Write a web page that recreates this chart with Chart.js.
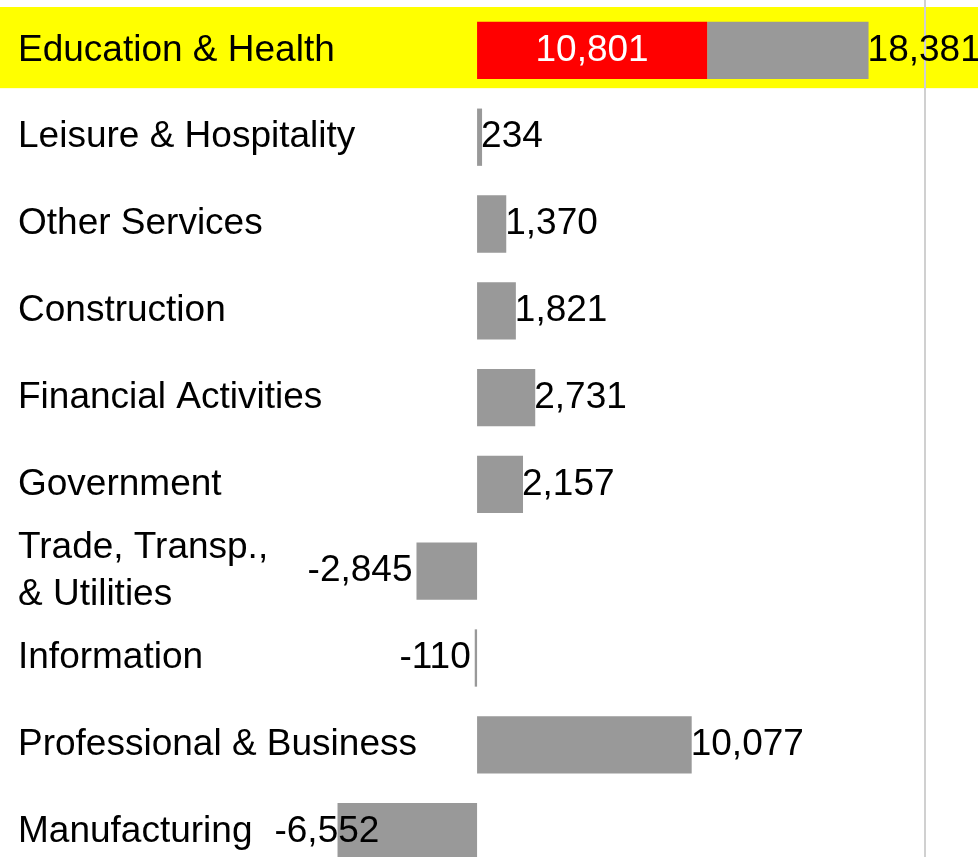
<!DOCTYPE html>
<html><head><meta charset="utf-8">
<script src="https://cdn.jsdelivr.net/npm/chart.js@4"></script>
<style>html,body{margin:0;padding:0;overflow:hidden;background:#fff}</style>
</head><body>
<canvas id="c" width="978" height="875"></canvas>
<script>
const categories = ["Education & Health","Leisure & Hospitality","Other Services","Construction","Financial Activities","Government",["Trade, Transp.,","& Utilities"],"Information","Professional & Business","Manufacturing"];
const totals = [18381,234,1370,1821,2731,2157,-2845,-110,10077,-6552];
const highlight = [10801,null,null,null,null,null,null,null,null,null];
const axisMin = -22400, axisMax = 23520;
const refLineValue = 21050;

const FONT_FAMILY = '"Liberation Sans", Arial, sans-serif';
const FONT_SIZE = 37;
const LINE_HEIGHT = 47;
const LABEL_LEFT = 18;
const fmt = v => v.toLocaleString('en-US');

const decor = {
  id: 'decor',
  beforeDraw(chart) {
    const {ctx, scales: {x, y}} = chart;
    const band = y.getPixelForValue(1) - y.getPixelForValue(0);
    ctx.save();
    highlight.forEach((h, i) => {
      if (h == null) return;
      const cy = y.getPixelForValue(i);
      ctx.fillStyle = '#ffff00';
      ctx.fillRect(0, cy - band * 0.5, chart.width, band * 0.935);
    });
    const lx = x.getPixelForValue(refLineValue);
    ctx.fillStyle = '#d0d0d0';
    ctx.fillRect(Math.round(lx) - 1, 0, 2, chart.height);
    // category labels
    ctx.font = FONT_SIZE + 'px ' + FONT_FAMILY;
    ctx.textBaseline = 'middle';
    ctx.textAlign = 'left';
    ctx.fillStyle = '#000';
    categories.forEach((c, i) => {
      const lines = Array.isArray(c) ? c : [c];
      const cy = y.getPixelForValue(i);
      const start = cy - (lines.length - 1) * LINE_HEIGHT / 2;
      lines.forEach((l, k) => ctx.fillText(l, LABEL_LEFT, start + k * LINE_HEIGHT));
    });
    ctx.restore();
  },
  afterDatasetsDraw(chart) {
    const {ctx, scales: {x, y}} = chart;
    ctx.save();
    ctx.font = FONT_SIZE + 'px ' + FONT_FAMILY;
    ctx.textBaseline = 'middle';
    totals.forEach((t, i) => {
      const cy = y.getPixelForValue(i);
      const px = x.getPixelForValue(t);
      ctx.fillStyle = '#000';
      const txt = fmt(t);
      if (t >= 0) {
        ctx.textAlign = 'left';
        ctx.fillText(txt, px - 1, cy);
      } else {
        const lines = Array.isArray(categories[i]) ? categories[i] : [categories[i]];
        const catRight = LABEL_LEFT + Math.max(...lines.map(l => ctx.measureText(l).width));
        const w = ctx.measureText(txt).width;
        let right = px - 4;
        if (right - w < catRight + 22) right = catRight + 22 + w;
        ctx.textAlign = 'right';
        ctx.fillText(txt, right, cy);
      }
      const h = highlight[i];
      if (h != null) {
        const x0 = x.getPixelForValue(0), x1 = x.getPixelForValue(h);
        ctx.fillStyle = '#ffffff';
        ctx.textAlign = 'center';
        ctx.fillText(fmt(h), (x0 + x1) / 2, cy);
      }
    });
    ctx.restore();
  }
};

new Chart(document.getElementById('c'), {
  type: 'bar',
  data: {
    labels: categories,
    datasets: [
      { data: highlight, backgroundColor: '#ff0000', borderWidth: 0 },
      { data: totals.map((t, i) => [highlight[i] || 0, t]), backgroundColor: '#999999', borderWidth: 0 }
    ]
  },
  options: {
    indexAxis: 'y',
    responsive: false,
    animation: false,
    events: [],
    datasets: { bar: { barPercentage: 0.66, categoryPercentage: 1 } },
    layout: { padding: { top: 7, bottom: 0, left: 0, right: 0 } },
    plugins: { legend: { display: false }, tooltip: { enabled: false } },
    scales: {
      x: { display: false, min: axisMin, max: axisMax },
      y: { display: false, stacked: true }
    }
  },
  plugins: [decor]
});
</script>
</body></html>
